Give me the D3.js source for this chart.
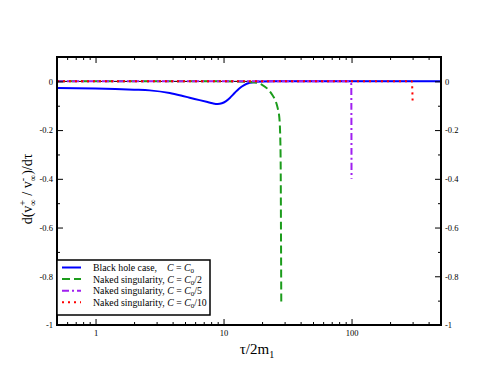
<!DOCTYPE html>
<html>
<head>
<meta charset="utf-8">
<script src="https://cdn.jsdelivr.net/npm/d3@7"></script>
<style>
  body { margin: 0; background: #fff; }
  svg { font-family: "Liberation Serif", "DejaVu Serif", serif; }
</style>
</head>
<body>
<div id="chart"></div>
<script>
// curve values (tau/2m1, derivative)
var blackHoleTau = [0.5, 1, 2, 2.65, 3.8, 4.8, 5.44, 6.5, 7.5, 8.2, 9.0, 9.7, 10.4, 11.2, 12.2, 13.2, 14.5, 16, 18, 20, 25, 500];
var blackHoleVal = [-0.027, -0.029, -0.034, -0.037, -0.048, -0.06, -0.067, -0.077, -0.085, -0.09, -0.093, -0.09, -0.082, -0.068, -0.048, -0.03, -0.015, -0.006, -0.002, -0.0005, 0, 0];

var nakedHalfTau = [0.5, 10, 15, 18, 20, 22, 24, 25.5, 26.5, 27.3, 27.8, 28.0, 28.1, 28.2, 28.25];
var nakedHalfVal = [0, 0, -0.002, -0.006, -0.014, -0.03, -0.055, -0.08, -0.11, -0.15, -0.25, -0.4, -0.6, -0.8, -0.906];

var nakedFifthTau = [0.5, 97, 99.5, 100];
var nakedFifthVal = [0, 0, -0.01, -0.4];

var nakedTenthTau = [0.5, 296, 300];
var nakedTenthVal = [0, 0, -0.079];

var legendLabels = ["Black hole case,", "Naked singularity,", "Naked singularity,", "Naked singularity,"];
var legendRatio = ["", "/2", "/5", "/10"];

var xMajor = [1, 10, 100];
var xMinor = [0.6, 0.7, 0.8, 0.9, 2, 3, 4, 5, 6, 7, 8, 9, 20, 30, 40, 50, 60, 70, 80, 90, 200, 300, 400];
var yMajor = [0, -0.2, -0.4, -0.6, -0.8, -1];
var yMinor = [-0.1, -0.3, -0.5, -0.7, -0.9];

var W = 496, H = 383;
var margin = {top: 57, right: 55, bottom: 58, left: 57};
var width = W - margin.left - margin.right,
    height = H - margin.top - margin.bottom;

var series = [
  {tau: blackHoleTau, val: blackHoleVal, color: "#0000ff", dash: null},
  {tau: nakedHalfTau, val: nakedHalfVal, color: "#1c9c1c", dash: "8,4"},
  {tau: nakedFifthTau, val: nakedFifthVal, color: "#a020f0", dash: "7,3,2,3"},
  {tau: nakedTenthTau, val: nakedTenthVal, color: "#ff0000", dash: "2,4"}
];

var x = d3.scaleLog().domain([0.5, 500]).range([0, width]);
var y = d3.scaleLinear().domain([-1, 0.1]).range([height, 0]);

var svg = d3.select("#chart").append("svg")
    .attr("width", W)
    .attr("height", H)
    .append("g")
    .attr("transform", "translate(" + margin.left + "," + margin.top + ")");

// zero line
svg.append("line")
    .attr("x1", 0).attr("x2", width)
    .attr("y1", y(0)).attr("y2", y(0))
    .attr("stroke", "#000").attr("stroke-width", 1);

// curves
var line = d3.line()
    .x(function(d) { return x(d[0]); })
    .y(function(d) { return y(d[1]); })
    .curve(d3.curveMonotoneX);

series.forEach(function(s) {
  var pts = s.tau.map(function(t, i) { return [t, s.val[i]]; });
  svg.append("path")
      .datum(pts)
      .attr("d", line)
      .attr("fill", "none")
      .attr("stroke", s.color)
      .attr("stroke-width", 2)
      .attr("stroke-dasharray", s.dash);
});

// axes, ticks pointing inward
var fmt = function(d) { return String(d); };

function styleAxis(g, noText) {
  g.select(".domain").remove();
  g.selectAll("line").attr("stroke", "#000");
  g.selectAll("text").style("font-family", "Liberation Serif").style("font-size", "8.5px").attr("fill", "#000");
  if (noText) g.selectAll("text").remove();
}

svg.append("g").attr("transform", "translate(0," + height + ")")
    .call(d3.axisBottom(x).tickValues(xMajor).tickSize(-6).tickPadding(5).tickFormat(fmt))
    .call(styleAxis);
svg.append("g").attr("transform", "translate(0," + height + ")")
    .call(d3.axisBottom(x).tickValues(xMinor).tickSize(-3))
    .call(styleAxis, true);
svg.append("g")
    .call(d3.axisTop(x).tickValues(xMajor).tickSize(-6))
    .call(styleAxis, true);
svg.append("g")
    .call(d3.axisTop(x).tickValues(xMinor).tickSize(-3))
    .call(styleAxis, true);

svg.append("g")
    .call(d3.axisLeft(y).tickValues(yMajor).tickSize(-6).tickPadding(4).tickFormat(fmt))
    .call(styleAxis);
svg.append("g")
    .call(d3.axisLeft(y).tickValues(yMinor).tickSize(-3))
    .call(styleAxis, true);
svg.append("g").attr("transform", "translate(" + width + ",0)")
    .call(d3.axisRight(y).tickValues(yMajor).tickSize(-6).tickPadding(4).tickFormat(fmt))
    .call(styleAxis);
svg.append("g").attr("transform", "translate(" + width + ",0)")
    .call(d3.axisRight(y).tickValues(yMinor).tickSize(-3))
    .call(styleAxis, true);

// frame
svg.append("rect")
    .attr("width", width).attr("height", height)
    .attr("fill", "none").attr("stroke", "#000").attr("stroke-width", 2);

// x label
var xl = svg.append("text")
    .attr("x", width / 2 + 8)
    .attr("y", height + 29)
    .style("text-anchor", "middle")
    .style("font-size", "15px");
xl.append("tspan").text("τ/2m");
xl.append("tspan").attr("dy", "4px").style("font-size", "10px").text("1");

// y label
var yl = svg.append("text")
    .attr("transform", "translate(" + (-25) + "," + (height / 2 - 2) + ") rotate(-90)")
    .style("text-anchor", "middle")
    .style("font-size", "14px");
yl.append("tspan").text("d(v");
yl.append("tspan").attr("dy", "-6px").style("font-size", "10px").text("+");
yl.append("tspan").attr("dx", "-5.6px").attr("dy", "10px").style("font-size", "9px").text("∞");
yl.append("tspan").attr("dy", "-4px").text(" / v");
yl.append("tspan").attr("dy", "-6px").style("font-size", "10px").text("-");
yl.append("tspan").attr("dx", "-3.3px").attr("dy", "10px").style("font-size", "9px").text("∞");
yl.append("tspan").attr("dy", "-4px").text(")/dτ");

// legend
var lgTop = 260 - margin.top;
var legend = svg.append("g").attr("transform", "translate(0," + lgTop + ")");
legend.append("rect")
    .attr("width", 153).attr("height", 55)
    .attr("fill", "#fff").attr("stroke", "#000").attr("stroke-width", 1.5);

series.forEach(function(s, i) {
  var ly = 7.5 + i * 11.6;
  legend.append("line")
      .attr("x1", 5).attr("x2", 24)
      .attr("y1", ly).attr("y2", ly)
      .attr("stroke", s.color).attr("stroke-width", 2)
      .attr("stroke-dasharray", s.dash);
  var t = legend.append("text")
      .attr("x", 36).attr("y", ly + 3.5)
      .style("font-size", "9.8px");
  t.append("tspan").text(legendLabels[i] + " ");
  var c = t.append("tspan");
  if (i === 0) c.attr("x", 110);
  c.style("font-style", "italic").text("C");
  t.append("tspan").text(" = ");
  t.append("tspan").style("font-style", "italic").text("C");
  t.append("tspan").attr("dy", "2px").style("font-size", "7px").text("0");
  t.append("tspan").attr("dy", "-2px").text(legendRatio[i]);
});
</script>
</body>
</html>
